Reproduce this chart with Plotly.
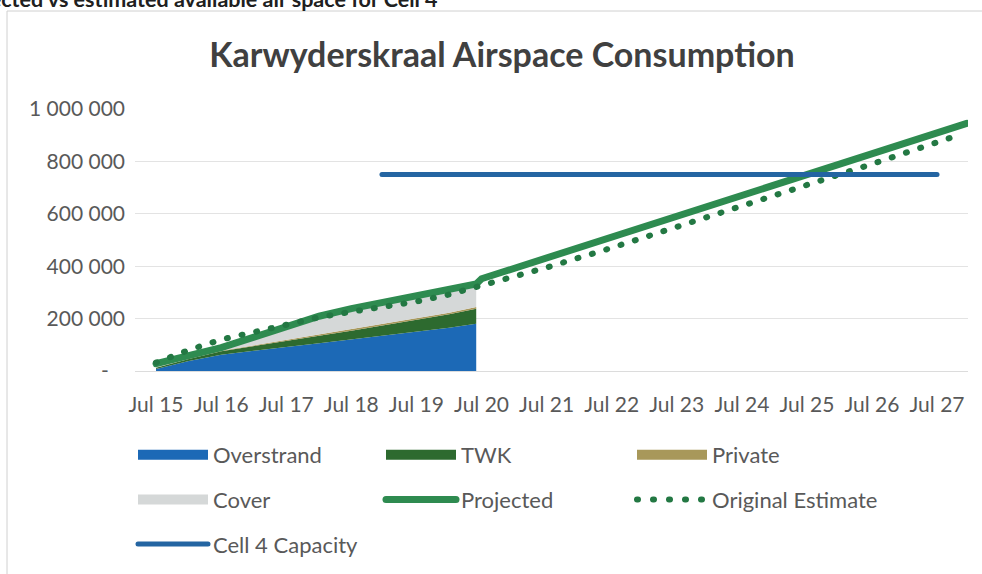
import plotly.graph_objects as go

# ---------------- data ----------------
actual_dates = ["2015-07-01", "2016-01-01", "2016-07-01", "2017-01-01", "2017-07-01",
                "2018-01-01", "2018-07-01", "2019-01-01", "2019-07-01", "2020-01-01", "2020-06-01"]
overstrand = [8000, 38000, 62000, 78000, 92000, 106000, 120000, 135000, 150000, 165000, 180000]
twk = [4000, 8000, 13000, 18000, 24000, 29000, 34000, 40000, 46000, 52000, 58000]
private = [1000, 1000, 2000, 2000, 3000, 3000, 4000, 4000, 5000, 5000, 6000]
cover = [12000, 10000, 10000, 28000, 50000, 68000, 78000, 81000, 83000, 85000, 74000]

projected_dates = actual_dates + ["2020-07-01", "2021-07-01", "2022-07-01", "2023-07-01", "2024-07-01",
                                  "2025-07-01", "2026-07-01", "2027-07-01", "2027-12-15"]
projected = [28000, 60000, 89000, 129000, 171000, 209000, 238000, 262000, 286000, 311000, 332000,
             352000, 432000, 512000, 592000, 672000, 752000, 832000, 912000, 945000]

original_dates = ["2015-07-01", "2016-01-01", "2016-07-01", "2017-01-01", "2017-07-01", "2018-01-01",
                  "2018-07-01", "2019-01-01", "2019-07-01", "2020-01-01", "2020-07-01", "2021-07-01",
                  "2022-07-01", "2023-07-01", "2024-07-01", "2025-07-01", "2026-07-01", "2027-07-01",
                  "2027-09-15"]
original_estimate = [32000, 80000, 120000, 150000, 180000, 205000, 226000, 245000, 265000, 292000,
                     325000, 395000, 470000, 548000, 628000, 710000, 790000, 872000, 890000]

capacity_dates = ["2018-12-20", "2027-07-01"]
capacity = [750000, 750000]

x_tick_vals = ["2015-07-01", "2016-07-01", "2017-07-01", "2018-07-01", "2019-07-01", "2020-07-01",
               "2021-07-01", "2022-07-01", "2023-07-01", "2024-07-01", "2025-07-01", "2026-07-01",
               "2027-07-01"]
x_tick_text = ["Jul 15", "Jul 16", "Jul 17", "Jul 18", "Jul 19", "Jul 20", "Jul 21", "Jul 22",
               "Jul 23", "Jul 24", "Jul 25", "Jul 26", "Jul 27"]
y_tick_vals = [0, 200000, 400000, 600000, 800000, 1000000]
y_tick_text = ["-\u00a0\u00a0\u00a0", "200 000", "400 000", "600 000", "800 000", "1 000 000"]

# ---------------- styles ----------------
FONT = "Lato, 'Open Sans', sans-serif"
C_OVER = "#1c69b6"
C_TWK = "#2d6a2f"
C_PRIV = "#a8985a"
C_COVER = "#d5d8d8"
C_PROJ = "#2e8b50"
C_ORIG = "#237843"
C_CAP = "#2465a2"
TXT = "#595959"

W, H = 982, 574
L, R, T, B = 135, 14, 109, 203
PW, PH = W - L - R, H - T - B

fig = go.Figure()

areas = [("Overstrand", overstrand, C_OVER),
         ("TWK", twk, C_TWK),
         ("Private", private, C_PRIV),
         ("Cover", cover, C_COVER)]
for name, vals, col in areas:
    fig.add_trace(go.Scatter(x=actual_dates, y=vals, name=name, stackgroup="one",
                             mode="lines", line=dict(width=0, color=col), fillcolor=col,
                             showlegend=False, legendgroup=name, hoverinfo="x+y+name"))

fig.add_trace(go.Scatter(x=projected_dates, y=projected, name="Projected", mode="lines",
                         line=dict(color=C_PROJ, width=7), showlegend=False, legendgroup="Projected"))
fig.add_trace(go.Scatter(x=original_dates, y=original_estimate, name="Original Estimate", mode="lines",
                         line=dict(color=C_ORIG, width=6, dash="1px,14px"), showlegend=False,
                         legendgroup="Original Estimate"))
fig.add_trace(go.Scatter(x=capacity_dates, y=capacity, name="Cell 4 Capacity", mode="lines",
                         line=dict(color=C_CAP, width=5), showlegend=False, legendgroup="Cell 4 Capacity"))

# legend entries (legend-only swatches)
legend_items = [
    ("Overstrand", dict(color=C_OVER, width=13), "legend"),
    ("Cover", dict(color=C_COVER, width=13), "legend"),
    ("Cell 4 Capacity", dict(color=C_CAP, width=5), "legend"),
    ("TWK", dict(color=C_TWK, width=13), "legend2"),
    ("Projected", dict(color=C_PROJ, width=7), "legend2"),
    ("Private", dict(color=C_PRIV, width=13), "legend3"),
    ("Original Estimate", dict(color=C_ORIG, width=6, dash="1px,15px"), "legend3"),
]
for name, ln, lg in legend_items:
    fig.add_trace(go.Scatter(x=[None], y=[None], name=name, mode="lines", line=ln,
                             legend=lg, legendgroup=name, showlegend=True, hoverinfo="skip"))

leg_common = dict(orientation="v", xref="container", yref="container", xanchor="left", yanchor="top",
                  bgcolor="rgba(0,0,0,0)", font=dict(family=FONT, size=22, color=TXT),
                  itemwidth=70, tracegroupgap=13, itemclick=False, itemdoubleclick=False)
row_top = 434
fig.update_layout(
    legend=dict(x=133 / W, y=1 - row_top / H, **leg_common),
    legend2=dict(x=381 / W, y=1 - row_top / H, **leg_common),
    legend3=dict(x=632 / W, y=1 - row_top / H, **leg_common),
)

fig.update_layout(
    width=W, height=H, autosize=False,
    margin=dict(l=L, r=R, t=T, b=B, autoexpand=False),
    paper_bgcolor="white", plot_bgcolor="white",
    font=dict(family=FONT, color=TXT),
    title=dict(text="<b>Karwyderskraal Airspace Consumption</b>", x=502 / W, xanchor="center",
               y=1 - 55 / H, yanchor="middle", xref="container", yref="container",
               font=dict(family=FONT, size=34, color="#404040")),
    xaxis=dict(type="date", range=["2015-03-05", "2027-12-22"], tickvals=x_tick_vals,
               ticktext=x_tick_text, showgrid=False, showline=True, linecolor="#dcdcdc",
               ticks="", ticklabelstandoff=15, tickfont=dict(family=FONT, size=21, color=TXT),
               zeroline=False),
    yaxis=dict(range=[0, 1000000], tickvals=y_tick_vals, ticktext=y_tick_text, showgrid=True,
               gridcolor="#e3e3e3", gridwidth=1, zeroline=False, ticks="", ticklabelstandoff=9,
               tickfont=dict(family=FONT, size=21, color=TXT)),
    hovermode="closest",
)

# outer chart frame and the cut-off caption above it
fig.add_shape(type="rect", xref="paper", yref="paper",
              x0=(7 - L) / PW, x1=(995 - L) / PW,
              y0=1 + (T - 590) / PH, y1=1 + (T - 11) / PH,
              line=dict(color="#d0d0d0", width=1), fillcolor="rgba(0,0,0,0)", layer="below")
fig.add_annotation(text="<b>Projected vs estimated available air space for Cell 4</b>",
                   xref="paper", yref="paper", x=(440 - L) / PW, y=1 + (T + 1) / PH,
                   xanchor="right", yanchor="middle", showarrow=False,
                   font=dict(family=FONT, size=21.5, color="#202020"))

post = """
document.body.style.margin = '0';
document.body.style.overflow = 'hidden';
var gd = document.getElementById('{plot_id}');
gd.querySelectorAll('.scatterlayer .js-line').forEach(function(p){p.style.strokeLinecap='round';});
gd.querySelectorAll('.infolayer g.traces').forEach(function(t){
  var txt = (t.textContent || '').trim();
  if (txt === 'Projected' || txt === 'Original Estimate' || txt === 'Cell 4 Capacity') {
    t.querySelectorAll('path').forEach(function(p){p.style.strokeLinecap='round';});
  }
});
"""
fig.write_html("out.html", post_script=post, config={"displayModeBar": False})
